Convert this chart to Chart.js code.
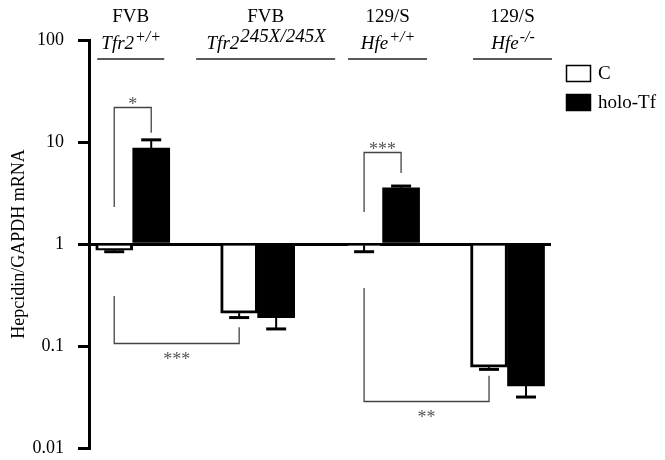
<!DOCTYPE html>
<html>
<head>
<meta charset="utf-8">
<script src="https://cdn.jsdelivr.net/npm/chart.js@4.4.1/dist/chart.umd.min.js"></script>
<style>
    html, body { margin: 0; padding: 0; background: #fff; }
</style>
</head>
<body>
<canvas id="hepcidinChart" width="665" height="460"></canvas>
<script>
const strains = ["FVB", "FVB", "129/S", "129/S"];
const genes = ["Tfr2", "Tfr2", "Hfe", "Hfe"];
const alleles = ["+/+", "245X/245X", "+/+", "-/-"];
const seriesNames = ["C", "holo-Tf"];
const controlValues = [0.87, 0.21, 0.97, 0.062];
const controlErrors = [0.84, 0.19, 0.84, 0.059];
const holoValues = [8.7, 0.19, 3.55, 0.0405];
const holoErrors = [10.5, 0.147, 3.7, 0.0316];
const yTicks = [0.01, 0.1, 1, 10, 100];

// significance brackets: [group, series] of each leg, level of the bar, ends of the legs
const sigLabels = ["*", "***", "***", "**"];
const sigFrom = [[0, 0], [0, 0], [2, 0], [2, 0]];
const sigTo = [[0, 1], [1, 0], [2, 1], [3, 0]];
const sigLevel = [22, 0.107, 8.0, 0.029];
const sigFromEnd = [2.3, 0.31, 2.06, 0.37];
const sigToEnd = [12.3, 0.153, 4.97, 0.051];

const FONT = "'Liberation Serif', 'Times New Roman', serif";

function barPixelX(chart, group, series) {
    const bar = chart.getDatasetMeta(series).data[group];
    return bar.x;
}

const errorBarPlugin = {
    id: "errorBars",
    afterDatasetsDraw(chart) {
        const ctx = chart.ctx;
        const y = chart.scales.y;
        ctx.save();
        ctx.strokeStyle = "#000";
        chart.data.datasets.forEach((ds, di) => {
            const meta = chart.getDatasetMeta(di);
            meta.data.forEach((bar, i) => {
                const yEnd = y.getPixelForValue(ds.errorTo[i]);
                ctx.lineWidth = 2;
                ctx.beginPath();
                ctx.moveTo(bar.x, bar.y);
                ctx.lineTo(bar.x, yEnd);
                ctx.stroke();
                ctx.lineWidth = 3;
                ctx.beginPath();
                ctx.moveTo(bar.x - 10, yEnd);
                ctx.lineTo(bar.x + 10, yEnd);
                ctx.stroke();
            });
        });
        ctx.restore();
    }
};

const annotationPlugin = {
    id: "annotations",
    afterDraw(chart) {
        const ctx = chart.ctx;
        const xs = chart.scales.x;
        const y = chart.scales.y;
        ctx.save();

        // significance brackets
        sigLabels.forEach((label, k) => {
            const x1 = barPixelX(chart, sigFrom[k][0], sigFrom[k][1]);
            const x2 = barPixelX(chart, sigTo[k][0], sigTo[k][1]);
            const yl = Math.round(y.getPixelForValue(sigLevel[k])) + 0.5;
            const y1 = y.getPixelForValue(sigFromEnd[k]);
            const y2 = y.getPixelForValue(sigToEnd[k]);
            ctx.strokeStyle = "#444";
            ctx.lineWidth = 1.3;
            ctx.beginPath();
            ctx.moveTo(x1, y1);
            ctx.lineTo(x1, yl);
            ctx.lineTo(x2, yl);
            ctx.lineTo(x2, y2);
            ctx.stroke();
            const above = yl < y1;
            ctx.fillStyle = "#555";
            ctx.font = "18px " + FONT;
            ctx.textAlign = "center";
            ctx.textBaseline = "alphabetic";
            ctx.fillText(label, (x1 + x2) / 2, above ? yl + 2 : yl + 21);
        });

        // group headers
        const nudge = [-2, 8, 5, 5];
        const lineWidths = [67, 139, 79, 79];
        const supSizes = [16, 19, 16, 16];
        strains.forEach((s, i) => {
            const cx = xs.getPixelForValue(i) + nudge[i];
            ctx.fillStyle = "#000";
            ctx.textAlign = "center";
            ctx.textBaseline = "alphabetic";
            ctx.font = "19px " + FONT;
            ctx.fillText(s, cx, 22);

            ctx.font = "italic 19px " + FONT;
            const gw = ctx.measureText(genes[i]).width;
            ctx.font = "italic " + supSizes[i] + "px " + FONT;
            const aw = ctx.measureText(alleles[i]).width;
            const start = cx - (gw + aw) / 2;
            ctx.textAlign = "left";
            ctx.font = "italic 19px " + FONT;
            ctx.fillText(genes[i], start, 49);
            ctx.font = "italic " + supSizes[i] + "px " + FONT;
            ctx.fillText(alleles[i], start + gw + 1, 42);

            ctx.strokeStyle = "#222";
            ctx.lineWidth = 1.5;
            ctx.beginPath();
            ctx.moveTo(cx - lineWidths[i] / 2, 59);
            ctx.lineTo(cx + lineWidths[i] / 2, 59);
            ctx.stroke();
        });

        // legend
        chart.data.datasets.forEach((ds, di) => {
            const top = 65 + di * 29;
            ctx.fillStyle = ds.backgroundColor;
            ctx.fillRect(566, top, 25, 17);
            ctx.strokeStyle = "#000";
            ctx.lineWidth = 1.5;
            ctx.strokeRect(566.5, top + 0.5, 24, 16);
            ctx.fillStyle = "#000";
            ctx.font = "19px " + FONT;
            ctx.textAlign = "left";
            ctx.textBaseline = "middle";
            ctx.fillText(ds.label, 598, top + 9);
        });
        ctx.restore();
    }
};

const ctx = document.getElementById("hepcidinChart");
new Chart(ctx, {
    type: "bar",
    data: {
        datasets: [{
            label: seriesNames[0],
            data: controlValues.map((v, i) => ({ x: i, y: v })),
            errorTo: controlErrors,
            base: 1,
            backgroundColor: "#ffffff",
            borderColor: "#000000",
            borderWidth: 3,
            borderSkipped: "start",
            barThickness: 37
        }, {
            label: seriesNames[1],
            data: holoValues.map((v, i) => ({ x: i, y: v })),
            errorTo: holoErrors,
            base: 1,
            backgroundColor: "#000000",
            borderWidth: 0,
            barThickness: 37
        }]
    },
    options: {
        responsive: false,
        animation: false,
        layout: { padding: { top: 40, right: 115, bottom: 0, left: 0 } },
        plugins: {
            legend: { display: false },
            tooltip: { enabled: false }
        },
        scales: {
            x: {
                type: "linear",
                position: { y: 1 },
                offset: false,
                min: -0.35,
                max: 3.34,
                z: 1,
                afterFit: (scale) => {
                    scale.height = 0;
                },
                ticks: { display: false },
                grid: { display: false },
                border: { color: "#000", width: 3 }
            },
            y: {
                type: "logarithmic",
                min: 0.01,
                max: 100,
                afterBuildTicks: (scale) => {
                    scale.ticks = yTicks.map(v => ({ value: v }));
                },
                afterFit: (scale) => {
                    scale.width = 89;
                    scale.paddingTop = 0;
                    scale.paddingBottom = 12;
                },
                ticks: {
                    callback: (v) => String(v),
                    color: "#000",
                    font: { family: FONT, size: 18 },
                    padding: 14
                },
                grid: {
                    drawOnChartArea: false,
                    drawTicks: true,
                    tickLength: 11,
                    tickWidth: 3,
                    tickColor: "#000",
                    color: "#000",
                    lineWidth: 3
                },
                border: { color: "#000", width: 3 },
                title: {
                    display: true,
                    text: "Hepcidin/GAPDH mRNA",
                    color: "#000",
                    font: { family: FONT, size: 18 },
                    padding: { top: 8, bottom: 0 }
                }
            }
        }
    },
    plugins: [errorBarPlugin, annotationPlugin]
});
</script>
</body>
</html>
